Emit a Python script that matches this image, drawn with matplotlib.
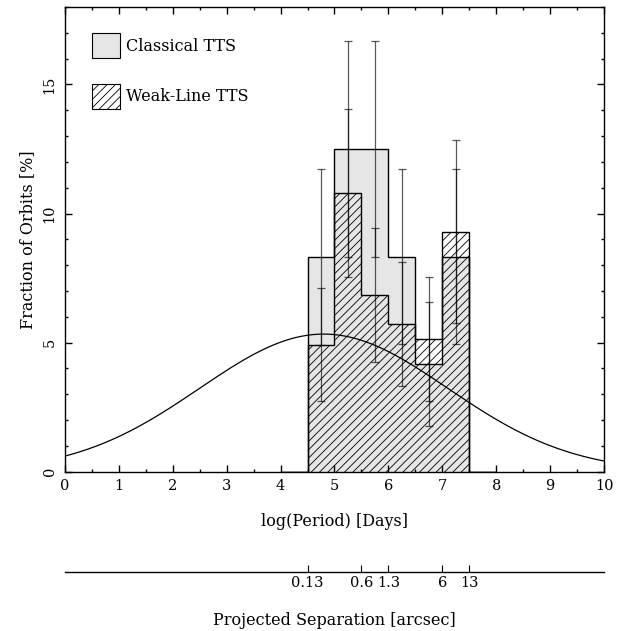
import numpy as np
import matplotlib
matplotlib.use('Agg')
import matplotlib.pyplot as plt
from matplotlib.patches import Patch

plt.rcParams['font.family'] = ['DejaVu Serif']
plt.rcParams['hatch.linewidth'] = 0.6

# histogram bins in log(P) [days]; zero-height bins on both ends
edges = [4.0, 4.5, 5.0, 5.5, 6.0, 6.5, 7.0, 7.5, 8.0]
ctts = [0, 8.33, 12.5, 12.5, 8.33, 4.17, 8.33, 0]
wtts = [0, 4.91, 10.78, 6.83, 5.72, 5.14, 9.29, 0]

# error bars at bin centres
centers = [4.75, 5.25, 5.75, 6.25, 6.75, 7.25]
ctts_err = [3.41, 4.18, 4.18, 3.40, 2.42, 3.40]
wtts_err = [2.19, 3.25, 2.59, 2.40, 2.39, 3.55]

# field-star period distribution (gaussian in log P)
dm_mean = 4.8
dm_sigma = 2.3
dm_peak = 5.33

# projected separation axis
sep_pos = [4.5, 5.5, 6.0, 7.0, 7.5]
sep_labels = ['0.13', '0.6', '1.3', '6', '13']

fig = plt.figure(figsize=(6.37, 6.31), dpi=100)
ax = fig.add_axes([0.102, 0.2525, 0.8462, 0.7364])

ax.stairs(ctts, edges, baseline=0, fill=True, color='0.9', lw=0)
ax.stairs(wtts, edges, baseline=0, fill=True, facecolor='none',
          edgecolor='k', hatch='////', lw=0)
ax.stairs(ctts, edges, baseline=0, color='k', lw=1.0)
ax.stairs(wtts, edges, baseline=0, color='k', lw=1.0)

ax.errorbar(centers, ctts[1:-1], yerr=ctts_err, fmt='none', ecolor='k',
            elinewidth=0.9, capsize=3, capthick=0.9, alpha=0.65)
ax.errorbar(centers, wtts[1:-1], yerr=wtts_err, fmt='none', ecolor='k',
            elinewidth=0.9, capsize=3, capthick=0.9, alpha=0.65)

xx = np.linspace(0, 10, 300)
ax.plot(xx, dm_peak * np.exp(-(xx - dm_mean) ** 2 / (2 * dm_sigma ** 2)),
        color='k', lw=0.9)

ax.set_xlim(0, 10)
ax.set_ylim(0, 18)
ax.set_xticks(range(0, 11))
ax.set_xticks(np.arange(0, 10.01, 0.5), minor=True)
ax.set_yticks([0, 5, 10, 15])
ax.set_yticks(range(0, 19), minor=True)
ax.tick_params(which='both', direction='in', top=True, right=True,
               labelsize=10.5, width=1.0)
ax.tick_params(which='major', length=5)
ax.tick_params(which='minor', length=2.5)
ax.tick_params(axis='x', pad=5)
ax.tick_params(axis='y', labelrotation=90, pad=6)
for lab in ax.get_yticklabels():
    lab.set_va('center')
for s in ax.spines.values():
    s.set_linewidth(1.0)

ax.set_xlabel('log(Period) [Days]', fontsize=11.5, labelpad=15)
ax.set_ylabel('Fraction of Orbits [%]', fontsize=11.5, labelpad=5)

handles = [Patch(facecolor='0.9', edgecolor='k', lw=0.8),
           Patch(facecolor='none', edgecolor='k', hatch='////', lw=0.8)]
ax.legend(handles, ['Classical TTS', 'Weak-Line TTS'], loc='upper left',
          bbox_to_anchor=(0.050, 0.944), frameon=False, fontsize=11.5,
          handlelength=1.75, handleheight=2.03, labelspacing=1.6,
          handletextpad=0.37, borderpad=0, borderaxespad=0)

# secondary axis: projected separation
ax2 = fig.add_axes([0.102, 0.094, 0.8462, 0.0001])
ax2.set_xlim(0, 10)
ax2.set_yticks([])
for side in ['top', 'left', 'right']:
    ax2.spines[side].set_visible(False)
ax2.spines['bottom'].set_linewidth(1.0)
ax2.set_xticks(sep_pos)
ax2.set_xticklabels(sep_labels)
ax2.tick_params(axis='x', direction='in', length=5, width=0.8,
                labelsize=10.5, pad=3)
ax2.set_xlabel('Projected Separation [arcsec]', fontsize=11.5, labelpad=16)

fig.savefig('out.png', dpi=100)
